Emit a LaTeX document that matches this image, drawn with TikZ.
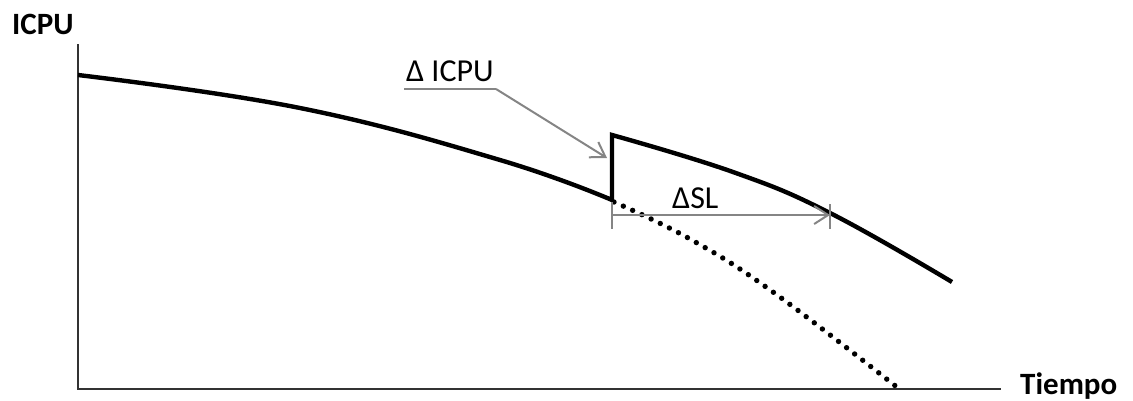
\documentclass[tikz,border=0pt]{standalone}
\usepackage{fontspec}
\setmainfont{Carlito}
\usetikzlibrary{arrows.meta}
\begin{document}
\begin{tikzpicture}[x=1pt,y=-1pt,
  axisline/.style={draw=black!80,line width=1.8pt},
  curve/.style={draw=black,line width=4.4pt,line join=miter},
  dotcurve/.style={draw=black,line width=5.4pt,line cap=round,dash pattern=on 0pt off 10.2pt},
  annot/.style={draw=black!48,line width=2pt},
  tip/.style={-{Straight Barb[length=14pt,width=18pt,line width=2pt]}},
  lbl/.style={inner sep=0pt,anchor=base west,font=\fontsize{32}{36}\selectfont},
  axlbl/.style={inner sep=0pt,anchor=base west,font=\fontsize{31}{34}\selectfont\bfseries}]
\useasboundingbox (0,0) rectangle (1133,400);
% axes
\coordinate (O) at (78,389);
\coordinate (ytop) at (78,44);
\coordinate (xend) at (1001,389);
\draw[axisline] (ytop) -- (O) -- (xend);
\node[axlbl] (ylab) at (12,34) {ICPU};
\node[axlbl] (xlab) at (1020,394) {Tiempo};
% main curve
\coordinate (jumpLow) at (612,200);
\coordinate (jumpHigh) at (612,135);
\draw[curve] plot[smooth,tension=0.7] coordinates {(78,75) (300,108) (500,160) (612,200)}
  -- (jumpHigh)
  -- plot[smooth,tension=0.7] coordinates {(612,135) (733,172) (830,213) (952,282)};
% dotted continuation
\draw[dotcurve] plot[smooth,tension=0.7] coordinates {(614,202) (690,239) (773,292) (898,388)};
% Delta ICPU annotation
\node[lbl] (dicpu) at (406,81) {Δ ICPU};
\coordinate (aL) at (404,89);
\coordinate (aK) at (496,89);
\coordinate (aT) at (607,158);
\draw[annot] (aL) -- (aK);
\draw[annot,tip] (aK) -- (aT);
% Delta SL annotation
\node[lbl] (dsl) at (672,208) {ΔSL};
\coordinate (sL) at (612,215);
\coordinate (sR) at (830,215);
\draw[annot] (612,202) -- (612,229);
\draw[annot] (830,204) -- (830,229);
\draw[annot,tip] (sL) -- (sR);
\end{tikzpicture}
\end{document}
